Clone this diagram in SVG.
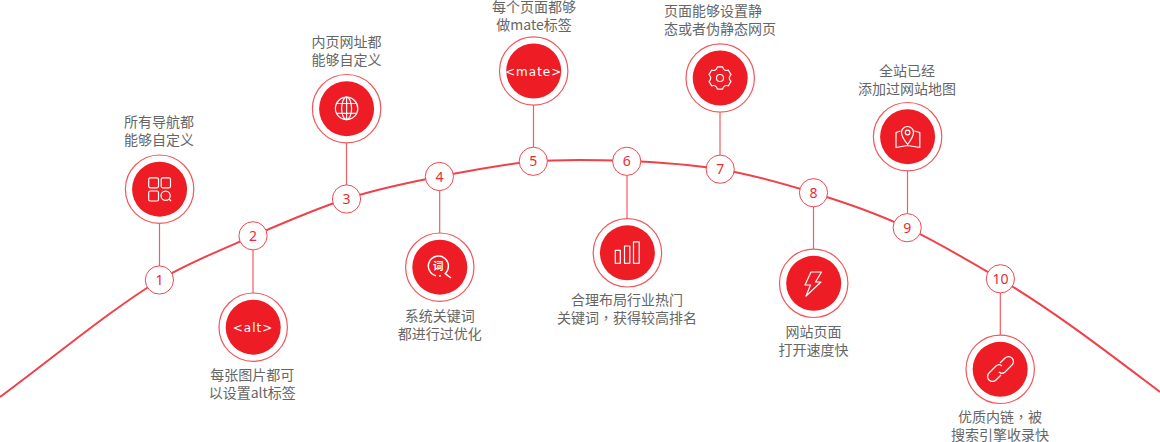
<svg xmlns="http://www.w3.org/2000/svg" width="1160" height="442" viewBox="0 0 1160 442">
<style>
text{font-family:"Noto Sans CJK SC","Noto Sans",sans-serif}
.c{fill:none;stroke:#f0404a;stroke-width:2}
.l{fill:none;stroke:#f25c62;stroke-width:1.2}
.s{fill:#fff;stroke:#f0474f;stroke-width:1}
.o{fill:#fff;stroke:#f1565c;stroke-width:1.2}
.i{fill:#ee1c25}
.n{fill:#ee2a33;font-size:14px;text-anchor:middle;font-family:"Noto Sans",sans-serif}
.t{fill:#666;font-size:14px;text-anchor:middle}
.p{font-family:"Noto Sans CJK TC",sans-serif}
.w{fill:none;stroke:#fff;stroke-width:1.2;stroke-linejoin:round}
.k{fill:#fff;font-size:12px;text-anchor:middle;letter-spacing:1px;font-family:"DejaVu Sans",sans-serif}
</style>
<g id="connectors">
<path class="c" d="M0 397C53 358 106 313 159.500 280C190 262 222 249.500 253 236C284 222.500 315 209 346 199C377 189 408.500 182.500 439.500 176.500C470.500 170.500 502 164 533 161.500C564 159 596 159.800 627 161C658 162.200 689 164.200 720 169.200C751 174.200 782 183.300 813 192.700C844 202.100 876 213 907 227.700C938 242.400 969 261 1000 279C1054 311 1107 352 1160 392"/>
<path class="l" d="M159.500 223.500V266M253 250V293M346.500 143V185M439.700 190.500V233M533.500 105V147M627 175.500V218.500M720 112.500V155M813.500 207V249M907.500 171V213.500M1000.300 293V335"/>
</g>
<g id="node1"><circle class="o" cx="159.600" cy="189.200" r="34.200"/><circle class="i" cx="159.600" cy="189.200" r="27.500"/>
<rect class="w" x="148.700" y="177.800" width="9.800" height="10" rx="1.500"/><rect class="w" x="161.200" y="177.800" width="9.300" height="10" rx="1.500"/><rect class="w" x="148.700" y="191" width="9.800" height="10" rx="1.500"/><circle class="w" cx="165.600" cy="195.800" r="4.600"/><path class="w" d="M169 199l2 2"/>
<text class="t" x="159" y="127">所有导航都</text><text class="t" x="159" y="145">能够自定义</text>
<circle class="s" cx="159.400" cy="280" r="14.100"/><text class="n" x="159.400" y="285">1</text></g>
<g id="node2"><circle class="o" cx="253.200" cy="327.200" r="34.200"/><circle class="i" cx="253.200" cy="327.200" r="27.500"/>
<text class="k" x="253" y="331.500">&lt;alt&gt;</text>
<text class="t" x="252.300" y="380">每张图片都可</text><text class="t" x="252.300" y="398">以设置alt标签</text>
<circle class="s" cx="253" cy="235.800" r="14.100"/><text class="n" x="253" y="241">2</text></g>
<g id="node3"><circle class="o" cx="346.600" cy="108.700" r="34.200"/><circle class="i" cx="346.600" cy="108.700" r="27.500"/>
<circle class="w" cx="346.600" cy="108.400" r="11.200"/><ellipse class="w" cx="346.600" cy="108.400" rx="5" ry="11.200"/><path class="w" d="M346.600 97.200V119.600M336.500 103.500H356.700M336.500 113.300H356.700"/>
<text class="t" x="346.600" y="47">内页网址都</text><text class="t" x="346.600" y="65">能够自定义</text>
<circle class="s" cx="346.500" cy="199" r="14.100"/><text class="n" x="346.500" y="204">3</text></g>
<g id="node4"><circle class="o" cx="439.800" cy="267.200" r="34.200"/><circle class="i" cx="439.800" cy="267.200" r="27.500"/>
<path class="w" style="stroke-width:1.500" d="M444.500 274A10 10 0 1 0 436 275.800M439 276.100L441 275.800M445.500 273.800L451 278"/><text x="438.300" y="270" fill="#fff" font-size="10.500" text-anchor="middle" font-weight="700">词</text>
<text class="t" x="439.700" y="321">系统关键词</text><text class="t" x="439.700" y="339">都进行过优化</text>
<circle class="s" cx="439.400" cy="176.500" r="14.100"/><text class="n" x="439.400" y="181.500">4</text></g>
<g id="node5"><circle class="o" cx="533.700" cy="71" r="34.200"/><circle class="i" cx="533.700" cy="71" r="27.500"/>
<text class="k" x="533.700" y="75.500">&lt;mate&gt;</text>
<text class="t" x="534" y="12">每个页面都够</text><text class="t" x="534" y="30">做mate标签</text>
<circle class="s" cx="533.300" cy="161.300" r="14.100"/><text class="n" x="533.300" y="166">5</text></g>
<g id="node6"><circle class="o" cx="627.400" cy="252.800" r="34.200"/><circle class="i" cx="627.400" cy="252.800" r="27.500"/>
<rect class="w" x="615.300" y="250.300" width="5" height="13"/><rect class="w" x="624.500" y="246" width="5.300" height="17.300"/><rect class="w" x="633.500" y="241.800" width="5.700" height="21.500"/>
<text class="t" x="627" y="305">合理布局行业热门</text><text class="t" x="627" y="323">关键词<tspan class="p">，</tspan>获得较高排名</text>
<circle class="s" cx="626.700" cy="161.300" r="14.100"/><text class="n" x="626.700" y="166">6</text></g>
<g id="node7"><circle class="o" cx="720.200" cy="78" r="34.200"/><circle class="i" cx="720.200" cy="78" r="27.500"/>
<path class="w" d="M717.400 66.800H722.600Q723.750 71.500 728.400 70.200L731 74.600Q727.500 78 731 81.400L728.400 85.800Q723.750 84.500 722.600 89.200H717.400Q716.250 84.500 711.600 85.800L709 81.400Q712.500 78 709 74.600L711.600 70.200Q716.250 71.500 717.400 66.800Z"/><circle class="w" cx="720" cy="78" r="3.500"/>
<text class="t" x="664" y="16" style="text-anchor:start">页面能够设置静</text><text class="t" x="720" y="34">态或者伪静态网页</text>
<circle class="s" cx="720.200" cy="169.200" r="14.100"/><text class="n" x="720.200" y="174">7</text></g>
<g id="node8"><circle class="o" cx="813.700" cy="283.300" r="34.200"/><circle class="i" cx="813.700" cy="283.300" r="27.500"/>
<path class="w" d="M811 272H821.500L815.500 282H821L806 296L810.500 285H805Z"/>
<text class="t" x="813.500" y="337">网站页面</text><text class="t" x="813.500" y="355">打开速度快</text>
<circle class="s" cx="813.500" cy="192.700" r="14.100"/><text class="n" x="813.500" y="198">8</text></g>
<g id="node9"><circle class="o" cx="907.600" cy="136.700" r="34.200"/><circle class="i" cx="907.600" cy="136.700" r="27.500"/>
<path class="w" d="M907.600 144.500C904 140 901.500 136 901.500 132.500A6 6 0 0 1 913.500 132.500C913.500 136 911 140 907.600 144.500Z"/><circle class="w" cx="907.600" cy="132.500" r="2.300"/><path class="w" d="M900.500 131L896 132.500V147.500L907.600 145.500L919.800 147.500V132.500L914.500 131"/>
<text class="t" x="907" y="76">全站已经</text><text class="t" x="907" y="94">添加过网站地图</text>
<circle class="s" cx="907.200" cy="227.700" r="14.100"/><text class="n" x="907.200" y="233">9</text></g>
<g id="node10"><circle class="o" cx="1000.200" cy="369.300" r="34.200"/><circle class="i" cx="1000.200" cy="369.300" r="27.500"/>
<path class="w" d="M1000 363L1005 358A4.500 4.500 0 0 1 1012 365L1005 372A4.500 4.500 0 0 1 999 372M1001 375L996 380A4.500 4.500 0 0 1 989 373L996 366A4.500 4.500 0 0 1 1002 366"/>
<text class="t" x="1000" y="422">优质内链<tspan class="p">，</tspan>被</text><text class="t" x="1000" y="440">搜索引擎收录快</text>
<circle class="s" cx="1000.400" cy="278.800" r="14.100"/><text class="n" x="1000.400" y="284">10</text></g>
</svg>
